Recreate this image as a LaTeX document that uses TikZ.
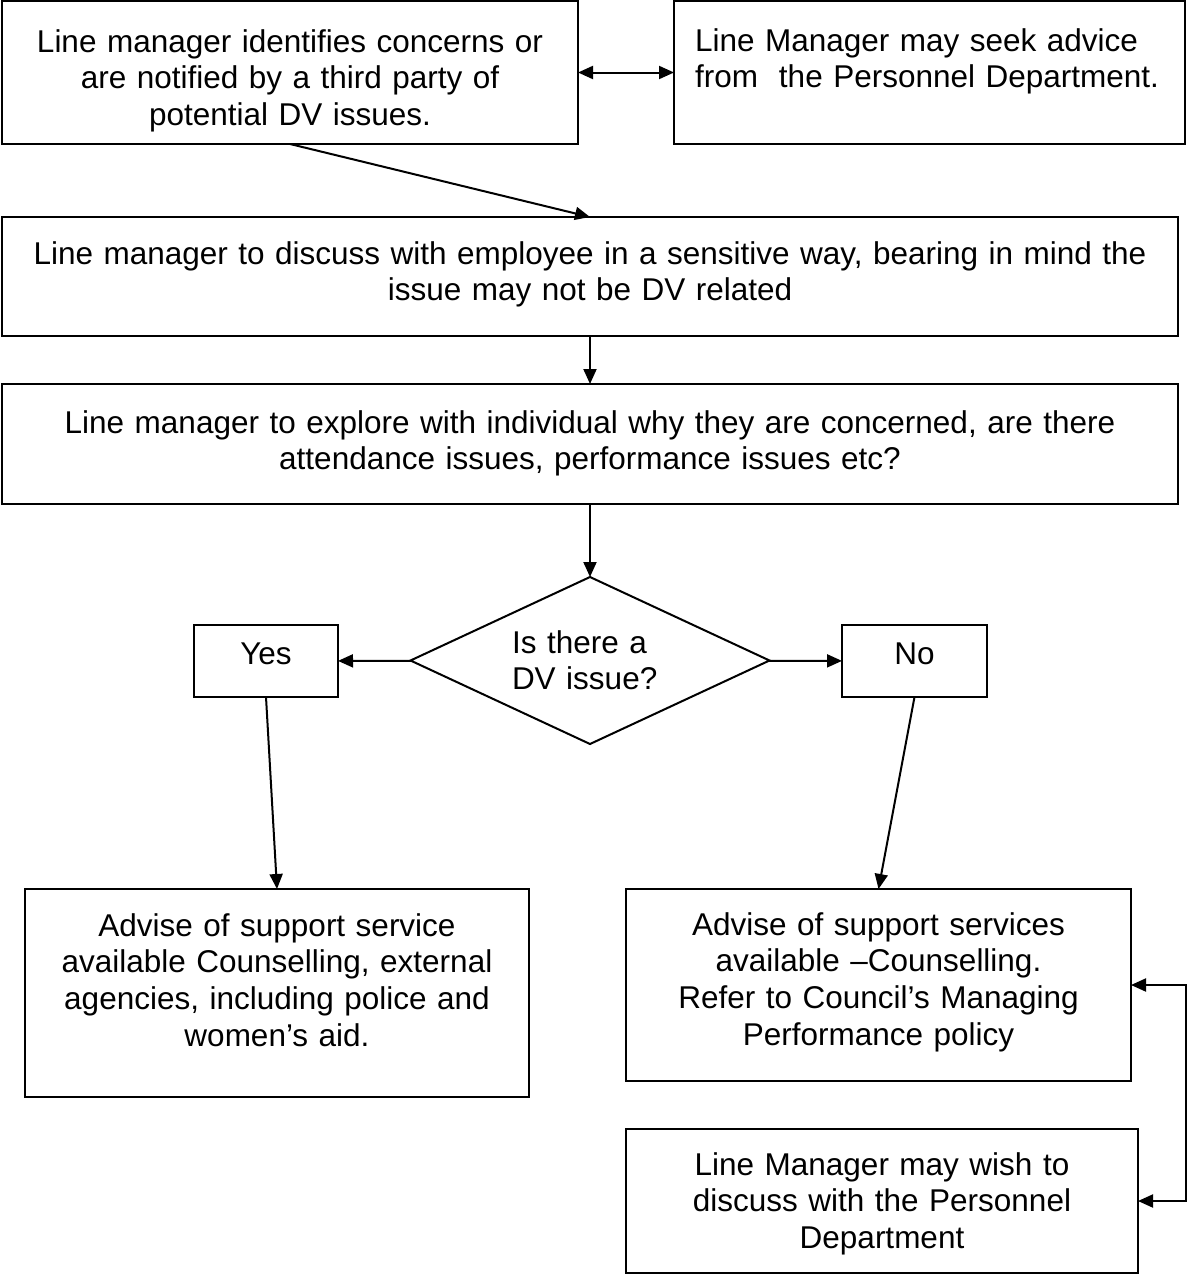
\documentclass[tikz,border=0pt]{standalone}
\usepackage{fontspec}
\setmainfont{Liberation Sans}
\usetikzlibrary{arrows.meta, shapes.geometric}

\begin{document}
\begin{tikzpicture}[->, >={Triangle[length=15pt,width=13pt]}, x=1pt, y=-1pt, line width=2pt,
  font=\fontsize{31.5}{36.8}\selectfont,
  box/.style={draw, rectangle, anchor=north west, inner xsep=0pt, inner ysep=0pt, outer sep=0pt, align=center}]
\useasboundingbox (0,0) rectangle (1187,1274);
\node[box, text width=576pt, text height=51pt, text depth=92pt](concern) at (2,1) {Line manager identifies concerns or\\are notified by a third party of\\potential DV issues.};
\node[box, align=left, inner xsep=21pt, text width=469pt, text height=50pt, text depth=93pt](advice) at (674,1) {Line Manager may seek advice\\\mbox{from\ \ the Personnel Department.}};
\node[box, text width=1176pt, text height=47pt, text depth=72pt](discuss) at (2,217) {Line manager to discuss with employee in a sensitive way, bearing in mind the\\issue may not be DV related};
\node[box, text width=1176pt, text height=49pt, text depth=71pt](explore) at (2,384) {Line manager to explore with individual why they are concerned, are there\\attendance issues, performance issues etc?};
\node[diamond, draw, aspect=2.15, minimum width=359pt, minimum height=167pt, inner sep=0pt, outer sep=0pt, text width=156pt, align=left, text height=30pt, text depth=45pt](question) at (590,660.5) {Is there a\\DV issue?};
\node[box, text width=144pt, text height=39pt, text depth=33pt](yes) at (194,625) {Yes};
\node[box, text width=145pt, text height=39pt, text depth=33pt](no) at (842,625) {No};
\node[box, text width=504pt, text height=47pt, text depth=161pt](support) at (25,889) {Advise of support service\\available Counselling, external\\agencies, including police and\\women’s aid.};
\node[box, text width=505pt, text height=46pt, text depth=146pt](services) at (626,889) {Advise of support services\\available –Counselling.\\Refer to Council’s Managing\\Performance policy};
\node[box, text width=512pt, text height=46pt, text depth=98pt](personnel) at (626,1129) {Line Manager may wish to\\discuss with the Personnel\\Department};
\coordinate (looptop) at (1186,985);
\coordinate (loopbot) at (1186,1201);
\path (concern) edge[<->] (advice);
\path (concern.south) edge (discuss.north);
\path (discuss) edge (explore);
\path (explore) edge (question);
\path (question) edge (yes);
\path (question) edge (no);
\path (yes.south) edge (support.north);
\path (no.south) edge (services.north);
\draw[<->] (services.east) -- (looptop) -- (loopbot) -- (personnel.east);
\end{tikzpicture}
\end{document}
